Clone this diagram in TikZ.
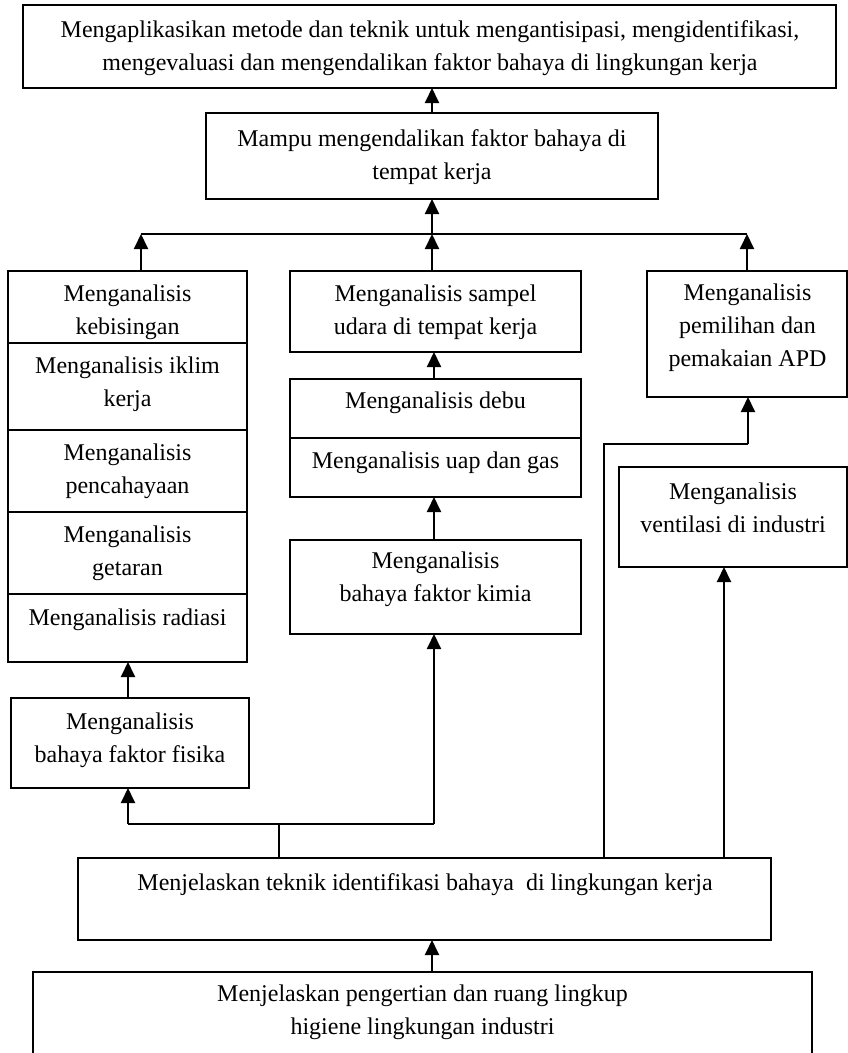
\documentclass[tikz,border=0pt]{standalone}
\usepackage{fontspec}
\setmainfont{Liberation Serif}
\usetikzlibrary{arrows.meta,calc}

% box given by its name and its corners (x1,y1) (x2,y2), y growing downwards
\newcommand\cellbox[5]{%
  \node[box, minimum width={(#4)-(#2)}, minimum height={(#5)-(#3)}]
    (#1) at ({((#2)+(#4))/2},{((#3)+(#5))/2}) {};}

\begin{document}
\begin{tikzpicture}[x=1pt, y=-1pt,
  box/.style={draw, line width=1.5pt, inner sep=0pt, outer sep=0pt},
  txt/.style={align=center, inner sep=0pt, font=\fontsize{24}{33}\selectfont},
  arr/.style={line width=2pt, -{Triangle[length=15pt,width=14pt]}},
  wire/.style={line width=1.5pt},
]
\clip (0,0) rectangle (848,1053);
\fill[white] (0,0) rectangle (848,1053);

% ---- boxes ----
\cellbox{goal}{23}{5}{836}{88}
\cellbox{mampu}{206}{113}{658}{199}

\cellbox{bising}{8}{271}{247}{343}
\cellbox{iklim}{8}{343}{247}{430}
\cellbox{cahaya}{8}{430}{247}{512}
\cellbox{getar}{8}{512}{247}{594}
\cellbox{radiasi}{8}{594}{247}{662}
\cellbox{fisika}{11}{698}{249}{788}

\cellbox{sampel}{290}{271}{581}{352}
\cellbox{debu}{290}{379}{581}{438}
\cellbox{uap}{290}{438}{581}{497}
\cellbox{kimia}{290}{540}{581}{634}

\cellbox{apd}{647}{271}{847}{397}
\cellbox{vent}{619}{467}{847}{567}

\cellbox{ident}{78}{858}{771}{940}
\cellbox{dasar}{33}{972}{812}{1080}

% ---- texts ----
\node[txt] (goal-t) at (430,48) {Mengaplikasikan metode dan teknik untuk mengantisipasi, mengidentifikasi,\\mengevaluasi dan mengendalikan faktor bahaya di lingkungan kerja};
\node[txt] (mampu-t) at (432,157) {Mampu mengendalikan faktor bahaya di\\tempat kerja};

\node[txt] (bising-t) at (127.5,312) {Menganalisis\\kebisingan};
\node[txt] (iklim-t) at (127.5,384.5) {Menganalisis iklim\\kerja};
\node[txt] (cahaya-t) at (127.5,471.5) {Menganalisis\\pencahayaan};
\node[txt] (getar-t) at (127.5,553.5) {Menganalisis\\getaran};
\node[txt] (radiasi-t) at (127.5,620) {Menganalisis radiasi};
\node[txt] (fisika-t) at (130,740) {Menganalisis\\bahaya faktor fisika};

\node[txt] (sampel-t) at (435.5,312) {Menganalisis sampel\\udara di tempat kerja};
\node[txt] (debu-t) at (435.5,403) {Menganalisis debu};
\node[txt] (uap-t) at (435.5,463) {Menganalisis uap dan gas};
\node[txt] (kimia-t) at (435.5,579) {Menganalisis\\bahaya faktor kimia};

\node[txt] (apd-t) at (747.5,328) {Menganalisis\\pemilihan dan\\pemakaian APD};
\node[txt] (vent-t) at (733,507.5) {Menganalisis\\ventilasi di industri};

\node[txt] (ident-t) at (425,885) {Menjelaskan teknik identifikasi bahaya\ \ di lingkungan kerja};
\node[txt] (dasar-t) at (422.5,1012.5) {Menjelaskan pengertian dan ruang lingkup\\higiene lingkungan industri};

% ---- junction points ----
\coordinate (busL) at (141,234);
\coordinate (busR) at (747,234);
\coordinate (spine) at (432,234);
\coordinate (b2L) at (128,824);
\coordinate (b2R) at (434,824);
\coordinate (b2tap) at (279,824);
\coordinate (rL) at (604,444);
\coordinate (rR) at (748,444);
\coordinate (vtap) at (724,858);

% ---- connectors ----
\draw[arr] (spine |- mampu.north) -- (spine |- goal.south);
\draw[arr] (spine) -- (spine |- mampu.south);
\draw[wire] (busL) -- (busR);
\draw[arr] (busL |- bising.north) -- (busL);
\draw[arr] (spine |- sampel.north) -- (spine);
\draw[arr] (busR |- apd.north) -- (busR);

\draw[arr] (b2R |- debu.north) -- (b2R |- sampel.south);
\draw[arr] (b2R |- kimia.north) -- (b2R |- uap.south);
\draw[arr] (b2L |- fisika.north) -- (b2L |- radiasi.south);

\draw[wire] (b2tap |- ident.north) -- (b2tap);
\draw[wire] (b2L) -- (b2R);
\draw[arr] (b2L) -- (b2L |- fisika.south);
\draw[arr] (b2R) -- (b2R |- kimia.south);

\draw[wire] (rL |- ident.north) -- (rL) -- (rR);
\draw[arr] (rR) -- (rR |- apd.south);
\draw[arr] (vtap) -- (vtap |- vent.south);

\draw[arr] (spine |- dasar.north) -- (spine |- ident.south);
\end{tikzpicture}
\end{document}
